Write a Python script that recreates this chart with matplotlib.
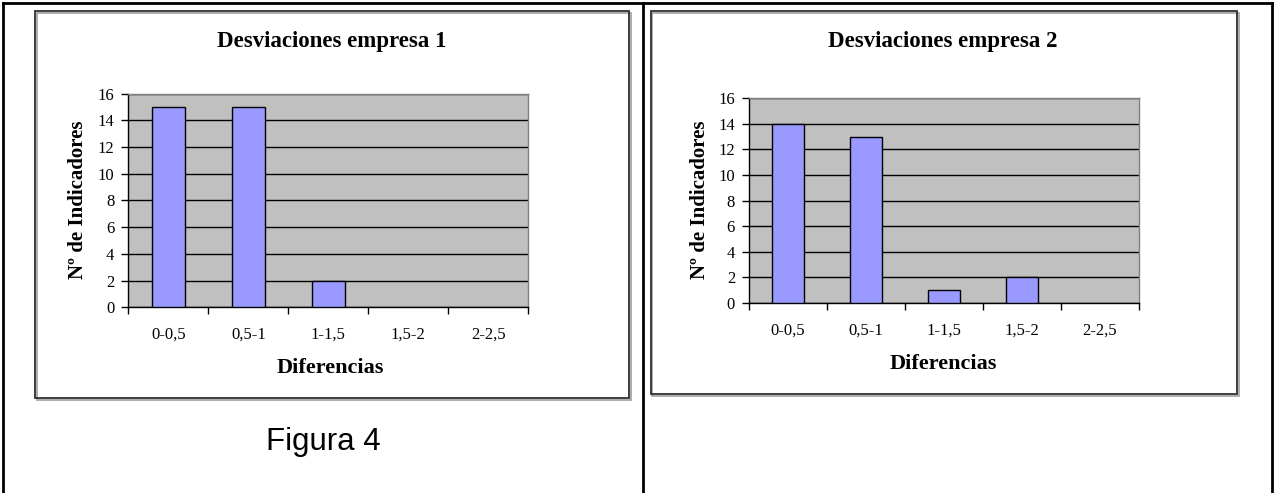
import matplotlib
matplotlib.use("Agg")
import matplotlib.pyplot as plt
from matplotlib.patches import Rectangle
from matplotlib.lines import Line2D

categorias = ['0-0,5', '0,5-1', '1-1,5', '1,5-2', '2-2,5']
empresa1 = [15, 15, 2, 0, 0]
empresa2 = [14, 13, 1, 2, 0]
titulos = ['Desviaciones empresa 1', 'Desviaciones empresa 2']

W, H = 1274, 493
fig = plt.figure(figsize=(W / 100, H / 100), dpi=100)
fig.patch.set_facecolor('white')

serif = 'Liberation Serif'


def frac_box(x0, y0, x1, y1):
    # pixel box (top-left origin) -> figure fraction [left, bottom, width, height]
    return [x0 / W, 1 - y1 / H, (x1 - x0) / W, (y1 - y0) / H]


def line(x0, y0, x1, y1, lw=2.0, color='black'):
    fig.add_artist(Line2D([x0 / W, x1 / W], [1 - y0 / H, 1 - y1 / H],
                          transform=fig.transFigure, color=color, lw=lw,
                          solid_capstyle='projecting'))


def caja(x0, y0, x1, y1):
    # shadow then frame of the chart object
    fig.add_artist(Rectangle((x0 / W + 1.5 / W, 1 - y1 / H - 1.5 / H),
                             (x1 - x0) / W, (y1 - y0) / H,
                             transform=fig.transFigure, fill=False,
                             edgecolor='#a0a0a0', lw=1.2))
    fig.add_artist(Rectangle((x0 / W, 1 - y1 / H), (x1 - x0) / W, (y1 - y0) / H,
                             transform=fig.transFigure, fill=False,
                             edgecolor='#303030', lw=1.3))


def grafico(rect, valores, titulo, tx, ty, ylx, yly, xlx, xly):
    ax = fig.add_axes(frac_box(*rect))
    ax.set_facecolor('#c0c0c0')
    x = range(len(categorias))
    ax.set_axisbelow(True)
    ax.yaxis.grid(True, color='black', lw=1.0)
    bordes = ['black' if v > 0 else 'none' for v in valores]
    ax.bar(x, valores, width=0.42, color='#9999ff', edgecolor=bordes, lw=1.0, zorder=3)
    ax.set_xlim(-0.5, len(categorias) - 0.5)
    ax.set_ylim(0, 16)
    ax.set_yticks(range(0, 17, 2))
    ax.set_xticks(list(x))
    ax.set_xticklabels(categorias)
    ax.set_xticks([i - 0.5 for i in range(len(categorias) + 1)], minor=True)
    ax.tick_params(axis='x', which='major', length=0, pad=14,
                   labelsize=12, labelfontfamily=serif)
    ax.tick_params(axis='x', which='minor', length=5, width=1.0, direction='out')
    ax.tick_params(axis='y', length=5, width=1.0, direction='out', pad=5,
                   labelsize=12, labelfontfamily=serif)
    for s in ['top', 'right']:
        ax.spines[s].set_color('#808080')
        ax.spines[s].set_linewidth(1.0)
    for s in ['left', 'bottom']:
        ax.spines[s].set_color('black')
        ax.spines[s].set_linewidth(1.0)
    fig.text(tx / W, 1 - ty / H, titulo, ha='center', va='center',
             fontfamily=serif, fontweight='bold', fontsize=16.5)
    fig.text(ylx / W, 1 - yly / H, 'Nº de Indicadores', ha='center', va='center',
             rotation=90, fontfamily=serif, fontweight='bold', fontsize=15)
    fig.text(xlx / W, 1 - xly / H, 'Diferencias', ha='center', va='center',
             fontfamily=serif, fontweight='bold', fontsize=16)
    return ax


# table grid
line(3, 3, 1272, 3)
line(3, 3, 3, 493)
line(1272, 3, 1272, 493)
line(643, 3, 643, 493)

caja(35, 11, 629, 398)
caja(651, 11, 1237, 394)

grafico((128.3, 93.5, 528.3, 307.3), empresa1, titulos[0], 332, 41, 78, 200, 330, 368)
grafico((749, 98.4, 1139, 302.7), empresa2, titulos[1], 943, 42, 700, 200, 943, 364)

fig.text(323 / W, 1 - 442 / H, 'Figura 4', ha='center', va='center',
         fontfamily='Liberation Sans', fontsize=22.5)

fig.savefig('out.png', dpi=100)
